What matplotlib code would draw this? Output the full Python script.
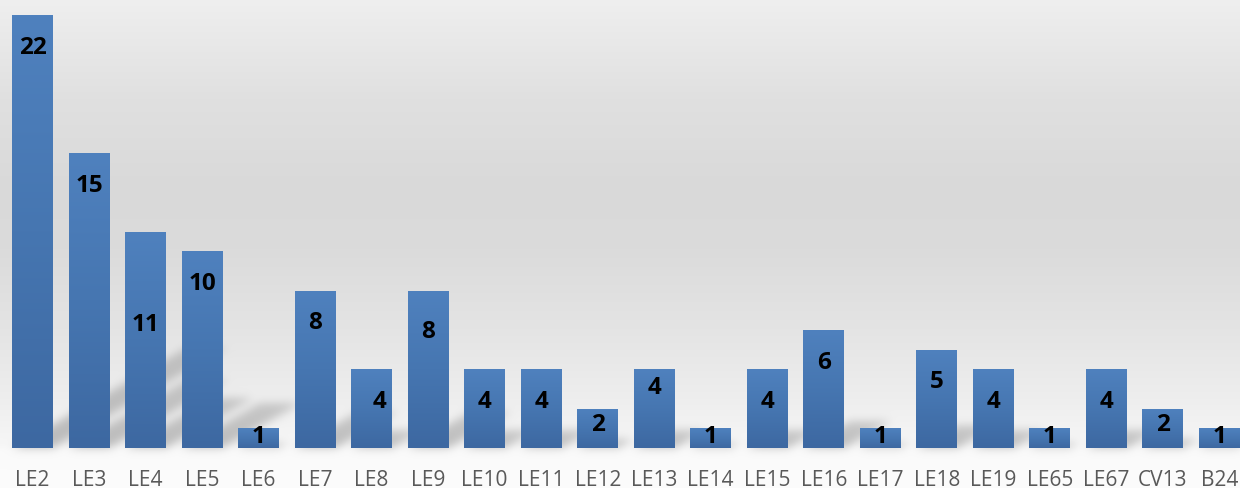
import numpy as np
import matplotlib.pyplot as plt
from matplotlib.colors import LinearSegmentedColormap
from matplotlib.path import Path

categories = ["LE2", "LE3", "LE4", "LE5", "LE6", "LE7", "LE8", "LE9", "LE10", "LE11",
              "LE12", "LE13", "LE14", "LE15", "LE16", "LE17", "LE18", "LE19", "LE65",
              "LE67", "CV13", "B24"]
counts = [22, 15, 11, 10, 1, 8, 4, 8, 4, 4, 2, 4, 1, 4, 6, 1, 5, 4, 1, 4, 2, 1]

# hand-placed data labels (x shift, drop below the usual spot), in data units
label_nudge = {"LE4": (0.0, 3.1), "LE8": (0.14, 0.0), "LE9": (0.0, 0.45), "LE13": (0.0, -0.7)}

plt.rcParams['font.family'] = ['Open Sans', 'DejaVu Sans']

W, H = 1240, 489
fig = plt.figure(figsize=(W / 100, H / 100), dpi=100)

bg = fig.add_axes([0, 0, 1, 1])
bg.axis("off")
ax = fig.add_axes([0, 40 / H, 1, 449 / H])
ax.patch.set_alpha(0)

x = np.arange(len(categories))
bars = ax.bar(x, counts, width=0.725, color="none", edgecolor="none", zorder=2)

# vertical gradient inside every bar
bar_cmap = LinearSegmentedColormap.from_list("bar", ["#3d68a1", "#4676b1", "#4f81be"])
grad = np.linspace(0, 1, 256).reshape(-1, 1)
for b in bars:
    im = ax.imshow(grad, cmap=bar_cmap, origin="lower", aspect="auto", zorder=2,
                   extent=[b.get_x(), b.get_x() + b.get_width(), 0, b.get_height()])
    im.set_clip_path(b)

ax.set_xlim(-0.575, 21.364)
ax.set_ylim(0, 22.815)

# value labels
for i, (cat, v) in enumerate(zip(categories, counts)):
    ly = v - 1.62 if v >= 3 else v * 0.6
    dx, dy = label_nudge.get(cat, (0.0, 0.0))
    ax.text(i + dx, ly - dy, str(v), ha="center", va="center", fontsize=17.5,
            fontweight="bold", color="black", zorder=3)

ax.set_xticks(x, categories)
ax.tick_params(axis="x", length=0, pad=15, labelsize=15, labelcolor="#595959")
ax.set_yticks([])
for s in ax.spines.values():
    s.set_visible(False)

# background: grey vertical gradient
stops_y = [0, 100, 190, 250, 330, 400, 445, 452, 489]
stops_v = [239, 224, 217, 219, 228, 238, 246, 250, 252]
col = np.interp(np.arange(H) + 0.5, stops_y, stops_v) / 255.0
rgb = np.repeat(np.repeat(col[:, None, None], W, axis=1), 3, axis=2)

# soft perspective shadows falling up and to the right of each bar
XX, YY = np.meshgrid(np.arange(W) + 0.5, H - (np.arange(H) + 0.5))
pts = np.column_stack([XX.ravel(), YY.ravel()])
shadow = np.zeros(H * W)
trans = ax.transData
a, bslope = 0.40, 0.23
for b in bars:
    (px0, py0), (px1, pytop) = trans.transform([(b.get_x(), 0), (b.get_x() + b.get_width(), b.get_height())])
    hpx = pytop - py0
    poly = [(px0, py0), (px1, py0), (px1 + a * hpx, py0 + bslope * hpx),
            (px0 + a * hpx, py0 + bslope * hpx), (px0, py0)]
    inside = Path(poly).contains_points(pts)
    t = np.clip((pts[:, 1] - py0) / max(bslope * hpx, 1), 0, 1)
    shadow = np.maximum(shadow, inside * (1 - 0.3 * t))
shadow = shadow.reshape(H, W)

# gaussian blur through FFT
sigma = 4.5
pad = 30
sp = np.pad(shadow, pad)
ky = np.fft.fftfreq(sp.shape[0])[:, None]
kx = np.fft.rfftfreq(sp.shape[1])[None, :]
kern = np.exp(-2 * (np.pi * sigma) ** 2 * (kx ** 2 + ky ** 2))
blur = np.fft.irfft2(np.fft.rfft2(sp) * kern, s=sp.shape)[pad:-pad, pad:-pad]
blur = np.clip(blur, 0, 1)
rgb = rgb * (1 - 0.24 * blur[:, :, None])

bg.imshow(rgb, extent=[0, W, 0, H], origin="upper", aspect="auto", zorder=0)
bg.set_xlim(0, W)
bg.set_ylim(0, H)

fig.savefig("out.png", dpi=100)
